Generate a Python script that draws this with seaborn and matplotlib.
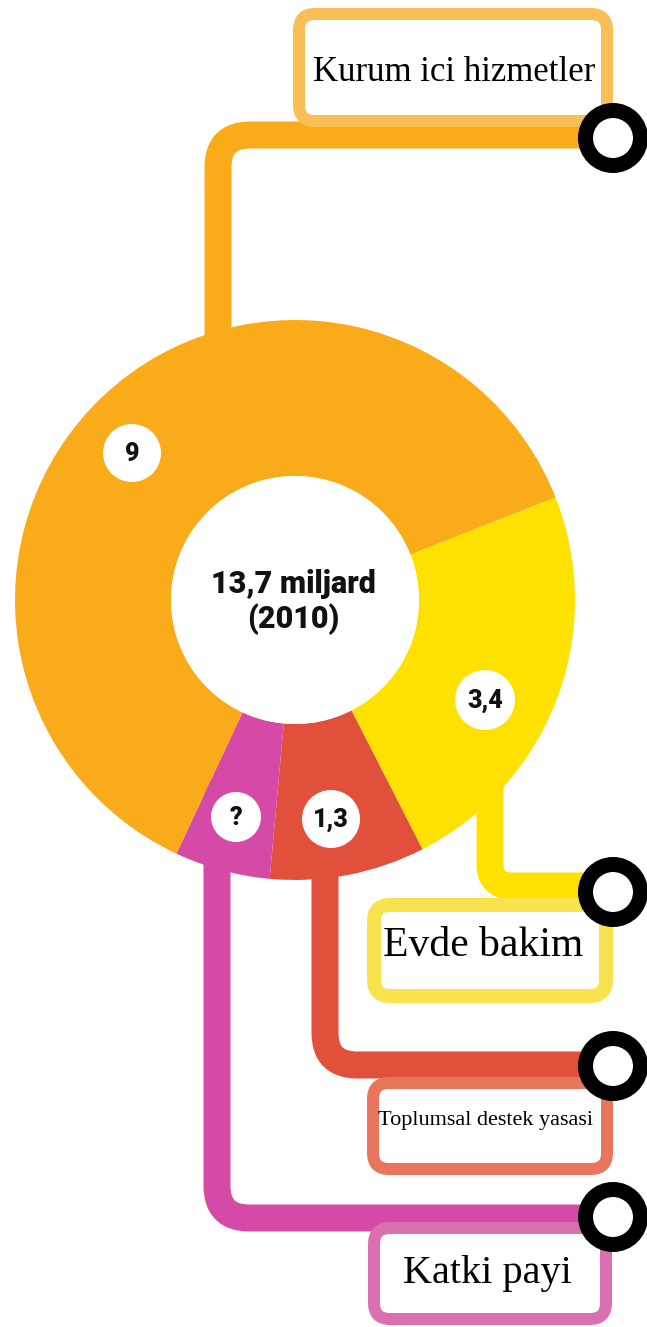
import numpy as np
import matplotlib
matplotlib.use("Agg")
import matplotlib.pyplot as plt
from matplotlib.path import Path
from matplotlib.patches import PathPatch, Circle, FancyBboxPatch
import seaborn as sns

# ---------------- data ----------------
categories = ["Evde bakim", "Toplumsal destek yasasi", "Katki payi", "Kurum ici hizmetler"]
values = [3.4, 1.3, 0.8, 9.0]          # 0.8 = unknown share ("?")
value_labels = ["3,4", "1,3", "?", "9"]
center_title = "13,7 miljard"
center_year = "(2010)"
slice_colors = ["#FFE100", "#E1503A", "#D54AA6", "#FAAB1A"]
box_colors = ["#F8E34E", "#E9765C", "#DB70B1", "#F9BE55"]

# ---------------- figure ----------------
sns.set_theme(style="white")
plt.rcParams["font.family"] = ["DejaVu Sans"]
W, H, DPI = 647, 1327, 100
PX = 72.0 / DPI  # points per pixel

fig = plt.figure(figsize=(W / DPI, H / DPI), dpi=DPI)
fig.patch.set_facecolor("white")
ax = fig.add_axes([0, 0, 1, 1])

CX, CY, R_OUT, R_IN = 295, 600, 280, 124
LW_LINE = 27 * PX


def rounded_path(p0, corner, p1, r):
    (x0, y0), (xc, yc), (x1, y1) = p0, corner, p1
    v0 = np.array([xc - x0, yc - y0], float); v0 /= np.linalg.norm(v0)
    v1 = np.array([x1 - xc, y1 - yc], float); v1 /= np.linalg.norm(v1)
    a = (xc - v0[0] * r, yc - v0[1] * r)
    b = (xc + v1[0] * r, yc + v1[1] * r)
    verts = [p0, a, (xc, yc), b, p1]
    codes = [Path.MOVETO, Path.LINETO, Path.CURVE3, Path.CURVE3, Path.LINETO]
    return Path(verts, codes)


# connector lines (drawn beneath the donut)
connectors = [
    ((490, 760), (490, 886), (612, 886), 22),      # Evde bakim
    ((325, 780), (325, 1065), (612, 1065), 32),    # Toplumsal
    ((217, 780), (217, 1218), (612, 1218), 32),    # Katki payi
    ((218, 360), (218, 135), (612, 135), 32),      # Kurum ici
]
for (p0, c, p1, r), col in zip(connectors, slice_colors):
    ax.add_patch(PathPatch(rounded_path(p0, c, p1, r), fill=False, ec=col,
                           lw=LW_LINE, capstyle="butt", joinstyle="round", zorder=1))

# donut (y axis is inverted, so angles are mirrored)
wedges, _ = ax.pie(values, colors=slice_colors, startangle=-21.5, counterclock=True,
                   center=(CX, CY), radius=R_OUT,
                   wedgeprops=dict(width=R_OUT - R_IN, linewidth=0))
for w in wedges:
    w.set_zorder(2)
ax.add_patch(Circle((CX, CY), R_IN, fc="white", ec="none", zorder=2.5))

# value bubbles
bubbles = [((485, 700), 30), ((331, 819), 29), ((236, 817), 25), ((132, 453), 29)]
for ((bx, by), br), lab in zip(bubbles, value_labels):
    ax.add_patch(Circle((bx, by), br, fc="white", ec="none", zorder=3))
    ax.text(bx, by + 1, lab, ha="center", va="center", fontsize=18,
            fontweight="black", family=["Roboto", "DejaVu Sans"], color="#111111", zorder=4)

# center text
ax.text(CX - 2, 593, center_title, ha="center", va="baseline", fontsize=22,
        fontweight="black", family=["Roboto", "DejaVu Sans"], color="#111111", zorder=4)
ax.text(CX - 2, 628, center_year, ha="center", va="baseline", fontsize=22,
        fontweight="black", family=["Roboto", "DejaVu Sans"], color="#111111", zorder=4)

# label boxes: (x0, y0, x1, y1) centre-line of outline, outline px, text (x, baseline), fontsize
boxes = [
    ((374, 905, 606, 996), 14, (483, 956), 30),
    ((373, 1083, 607, 1169), 12, (486, 1125), 16),
    ((374, 1228, 606, 1319), 12, (487, 1283), 29),
    ((299, 14, 607, 121), 12, (454, 81), 25),
]
for ((x0, y0, x1, y1), lwpx, (tx, ty), fs), col, name in zip(boxes, box_colors, categories):
    ax.add_patch(FancyBboxPatch((x0, y0), x1 - x0, y1 - y0,
                                boxstyle="round,pad=0,rounding_size=16",
                                fc="white", ec=col, lw=lwpx * PX, zorder=3))
    ax.text(tx, ty, name, ha="center", va="baseline", fontsize=fs,
            family=["Liberation Serif", "DejaVu Serif"], color="black", zorder=6)

# end-point rings
for cy in [892, 1066, 1217, 138]:
    ax.add_patch(Circle((613, cy), 27.5, fc="white", ec="black", lw=15 * PX, zorder=5))

ax.set_xlim(0, W)
ax.set_ylim(H, 0)
ax.set_aspect("equal")
ax.axis("off")

fig.savefig("out.png", dpi=DPI, facecolor="white")
